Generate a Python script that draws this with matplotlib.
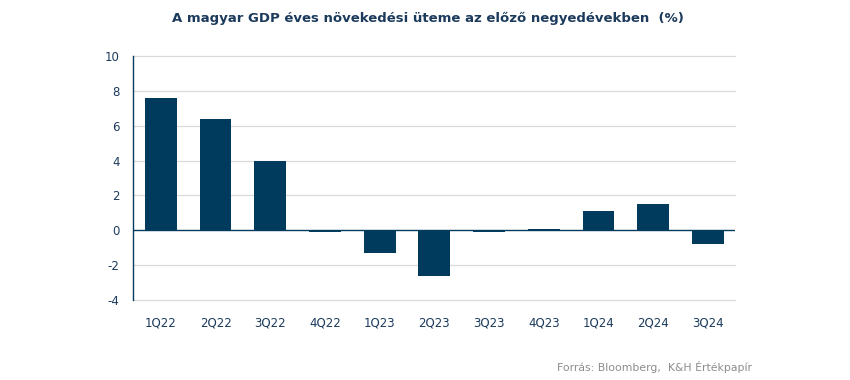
import numpy as np
import matplotlib.pyplot as plt

# negyedévek és GDP növekedés (%)
negyedevek = ["1Q22", "2Q22", "3Q22", "4Q22", "1Q23", "2Q23", "3Q23", "4Q23", "1Q24", "2Q24", "3Q24"]
novekedes = [7.6, 6.4, 4.0, -0.1, -1.3, -2.6, -0.1, 0.1, 1.1, 1.5, -0.8]
y_tickek = [-4, -2, 0, 2, 4, 6, 8, 10]

sotetkek = "#003a5d"
szoveg = "#1b3a5c"

plt.rcParams["axes.unicode_minus"] = False

fig = plt.figure(figsize=(8.5, 3.8), dpi=100)
ax = fig.add_axes([0.157, 0.2105, 0.708, 0.642])

x = np.arange(len(negyedevek))
ax.bar(x, novekedes, width=0.58, color=sotetkek, zorder=3)

ax.set_ylim(-4, 10)
ax.set_xlim(-0.5, len(negyedevek) - 0.5)
ax.set_yticks(y_tickek)
for t in y_tickek:
    if t != 0:
        ax.axhline(t, color="#d9d9d9", linewidth=0.9, zorder=0, clip_on=False)
ax.axhline(0, color=sotetkek, linewidth=1.0, zorder=4)

for s in ["top", "right", "bottom"]:
    ax.spines[s].set_visible(False)
ax.spines["left"].set_color(sotetkek)
ax.spines["left"].set_linewidth(1.0)
ax.spines["left"].set_zorder(5)

ax.set_xticks(x)
ax.set_xticklabels(negyedevek)
ax.tick_params(axis="both", length=0, labelsize=8.5, colors=szoveg)
ax.tick_params(axis="x", pad=12)
ax.tick_params(axis="y", pad=10)

fig.text(0.503, 0.952, "A magyar GDP éves növekedési üteme az előző negyedévekben  (%)",
         ha="center", va="center", fontsize=9.5, fontweight="bold", color=szoveg)
fig.text(0.885, 0.035, "Forrás: Bloomberg,  K&H Értékpapír",
         ha="right", va="center", fontsize=7.8, color="#8c8c8c")

fig.savefig("out.png", dpi=100)
